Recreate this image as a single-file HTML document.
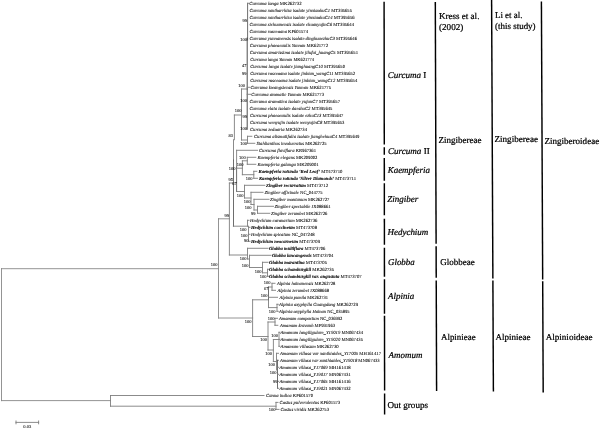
<!DOCTYPE html>
<html lang="en">
<head>
<meta charset="utf-8">
<title>Phylogenetic tree of Zingiberaceae</title>
<style>
html,body{margin:0;padding:0;background:#fff;}
body{width:600px;height:429px;overflow:hidden;}
svg{display:block;}
text{font-family:"Liberation Serif",serif;text-rendering:geometricPrecision;}
.tr line{stroke:#7e7e7e;stroke-width:0.9;stroke-linecap:square;}
.tr line.d{stroke:#5c5c5c;}
.tr line.l{stroke:#888;}
.tr line.k{stroke:#3a3a3a;}
.tip{font-size:4.7px;fill:#000;stroke:#000;stroke-width:0.06px;}
.tip .i{font-style:italic;}
.tip.b .i{font-weight:bold;stroke-width:0.08px;}
.bs{font-size:4.5px;fill:#000;stroke:#000;stroke-width:0.05px;text-anchor:end;}
.bar line{stroke:#000;stroke-width:1.45;}
.lab{font-size:9px;fill:#000;stroke:#000;stroke-width:0.22px;}
.g{font-style:italic;}
</style>
</head>
<body>
<svg width="600" height="429" viewBox="0 0 600 429">
<rect width="600" height="429" fill="#fff"/>
<g class="tr">
<line class="l" x1="1.5" y1="268.7" x2="1.5" y2="400.6"/>
<line class="l" x1="1.5" y1="268.7" x2="218.5" y2="268.7"/>
<line class="l" x1="1.5" y1="400.6" x2="110.5" y2="400.6"/>
<line x1="110.5" y1="395.5" x2="110.5" y2="406.2"/>
<line x1="110.5" y1="395.5" x2="264.0" y2="395.5"/>
<line x1="110.5" y1="406.2" x2="276.0" y2="406.2"/>
<line x1="276.0" y1="402.4" x2="276.0" y2="409.4"/>
<line x1="276.0" y1="402.4" x2="278.0" y2="402.4"/>
<line x1="276.0" y1="409.4" x2="279.0" y2="409.4"/>
<line class="l" x1="218.5" y1="218.8" x2="218.5" y2="318.0"/>
<line class="l" x1="218.5" y1="218.8" x2="229.4" y2="218.8"/>
<line class="l" x1="218.5" y1="318.0" x2="252.6" y2="318.0"/>
<line x1="229.4" y1="183.0" x2="229.4" y2="255.0"/>
<line x1="229.4" y1="183.0" x2="233.4" y2="183.0"/>
<line x1="229.4" y1="255.0" x2="247.5" y2="255.0"/>
<line x1="233.5" y1="139.7" x2="233.5" y2="160.0"/>
<line class="d" x1="233.5" y1="160.0" x2="233.5" y2="226.2"/>
<line x1="233.4" y1="226.2" x2="247.5" y2="226.2"/>
<line x1="234.4" y1="115.0" x2="234.4" y2="139.7"/>
<line x1="234.4" y1="115.0" x2="241.5" y2="115.0"/>
<line x1="241.5" y1="89.0" x2="241.5" y2="140.0"/>
<line x1="241.5" y1="89.0" x2="247.2" y2="89.0"/>
<line x1="241.5" y1="140.0" x2="247.5" y2="140.0"/>
<line class="d" x1="247.6" y1="3.3" x2="247.6" y2="40.0"/>
<line class="k" x1="247.2" y1="38.0" x2="247.2" y2="129.3"/>
<line x1="247.6" y1="3.3" x2="248.6" y2="3.3"/>
<line x1="247.2" y1="87.3" x2="249.8" y2="87.3"/>
<line x1="247.2" y1="94.3" x2="250.5" y2="94.3"/>
<line x1="247.5" y1="136.3" x2="247.5" y2="143.3"/>
<line x1="247.5" y1="136.3" x2="251.8" y2="136.3"/>
<line x1="247.5" y1="143.3" x2="254.8" y2="143.3"/>
<line x1="236.6" y1="150.3" x2="236.6" y2="167.0"/>
<line class="d" x1="236.6" y1="167.0" x2="236.6" y2="191.5"/>
<line x1="236.6" y1="150.3" x2="257.5" y2="150.3"/>
<line x1="236.6" y1="168.2" x2="242.4" y2="168.2"/>
<line x1="242.4" y1="160.8" x2="242.4" y2="174.7"/>
<line x1="242.4" y1="160.8" x2="247.3" y2="160.8"/>
<line x1="247.3" y1="157.3" x2="247.3" y2="164.3"/>
<line x1="247.3" y1="157.3" x2="255.8" y2="157.3"/>
<line x1="247.3" y1="164.3" x2="255.8" y2="164.3"/>
<line x1="242.4" y1="174.7" x2="253.8" y2="174.7"/>
<line x1="253.8" y1="171.3" x2="253.8" y2="178.3"/>
<line x1="253.8" y1="171.3" x2="256.8" y2="171.3"/>
<line x1="253.8" y1="178.3" x2="257.5" y2="178.3"/>
<line x1="236.6" y1="191.5" x2="244.5" y2="191.5"/>
<line x1="244.5" y1="185.3" x2="244.5" y2="198.0"/>
<line x1="244.5" y1="185.3" x2="264.8" y2="185.3"/>
<line x1="244.5" y1="198.0" x2="251.0" y2="198.0"/>
<line x1="251.0" y1="192.3" x2="251.0" y2="204.5"/>
<line x1="251.0" y1="192.3" x2="263.0" y2="192.3"/>
<line x1="251.0" y1="204.5" x2="254.0" y2="204.5"/>
<line x1="254.0" y1="199.3" x2="254.0" y2="210.0"/>
<line x1="254.0" y1="199.3" x2="269.0" y2="199.3"/>
<line x1="254.0" y1="210.0" x2="257.5" y2="210.0"/>
<line x1="257.5" y1="206.3" x2="257.5" y2="213.3"/>
<line x1="257.5" y1="206.3" x2="273.5" y2="206.3"/>
<line x1="257.5" y1="213.3" x2="269.8" y2="213.3"/>
<line x1="247.5" y1="220.3" x2="247.5" y2="226.2"/>
<line x1="247.5" y1="220.3" x2="249.0" y2="220.3"/>
<line x1="248.5" y1="226.2" x2="248.5" y2="241.3"/>
<line x1="248.5" y1="227.3" x2="250.0" y2="227.3"/>
<line x1="248.5" y1="234.3" x2="250.0" y2="234.3"/>
<line x1="248.5" y1="241.3" x2="250.0" y2="241.3"/>
<line x1="247.5" y1="248.3" x2="247.5" y2="259.0"/>
<line x1="247.5" y1="248.3" x2="268.0" y2="248.3"/>
<line x1="249.5" y1="255.3" x2="249.5" y2="267.5"/>
<line x1="247.5" y1="259.0" x2="249.5" y2="259.0"/>
<line x1="249.5" y1="255.3" x2="271.0" y2="255.3"/>
<line x1="249.5" y1="267.5" x2="262.5" y2="267.5"/>
<line x1="262.5" y1="262.3" x2="262.5" y2="272.8"/>
<line x1="262.5" y1="262.3" x2="268.0" y2="262.3"/>
<line x1="262.5" y1="272.8" x2="267.5" y2="272.8"/>
<line x1="267.5" y1="269.3" x2="267.5" y2="276.3"/>
<line x1="267.5" y1="269.3" x2="268.5" y2="269.3"/>
<line x1="267.5" y1="276.3" x2="268.5" y2="276.3"/>
<line x1="252.6" y1="299.8" x2="252.6" y2="336.5"/>
<line x1="252.6" y1="299.8" x2="268.5" y2="299.8"/>
<line x1="252.6" y1="336.5" x2="268.0" y2="336.5"/>
<line class="d" x1="268.5" y1="287.0" x2="268.5" y2="300.0"/>
<line x1="268.5" y1="300.0" x2="268.5" y2="307.6"/>
<line x1="268.5" y1="287.0" x2="272.0" y2="287.0"/>
<line x1="272.0" y1="283.3" x2="272.0" y2="290.3"/>
<line x1="272.0" y1="283.3" x2="275.0" y2="283.3"/>
<line x1="272.0" y1="290.3" x2="275.5" y2="290.3"/>
<line x1="268.5" y1="297.3" x2="277.5" y2="297.3"/>
<line x1="268.5" y1="307.6" x2="277.0" y2="307.6"/>
<line x1="277.0" y1="304.3" x2="277.0" y2="311.3"/>
<line x1="277.0" y1="304.3" x2="278.3" y2="304.3"/>
<line x1="277.0" y1="311.3" x2="278.3" y2="311.3"/>
<line x1="268.0" y1="322.0" x2="268.0" y2="350.0"/>
<line x1="268.0" y1="322.0" x2="275.0" y2="322.0"/>
<line x1="275.0" y1="318.3" x2="275.0" y2="325.3"/>
<line x1="275.0" y1="318.3" x2="277.5" y2="318.3"/>
<line x1="275.0" y1="325.3" x2="277.8" y2="325.3"/>
<line x1="268.0" y1="350.0" x2="273.4" y2="350.0"/>
<line x1="273.4" y1="339.5" x2="273.4" y2="361.5"/>
<line x1="273.4" y1="339.5" x2="279.0" y2="339.5"/>
<line x1="279.0" y1="332.3" x2="279.0" y2="346.3"/>
<line x1="279.0" y1="332.3" x2="280.0" y2="332.3"/>
<line x1="279.0" y1="339.3" x2="280.0" y2="339.3"/>
<line x1="279.0" y1="346.3" x2="280.0" y2="346.3"/>
<line x1="273.4" y1="361.5" x2="276.5" y2="361.5"/>
<line x1="276.5" y1="353.3" x2="276.5" y2="370.0"/>
<line x1="276.5" y1="353.3" x2="278.5" y2="353.3"/>
<line x1="276.5" y1="360.3" x2="278.5" y2="360.3"/>
<line class="d" x1="277.5" y1="360.3" x2="277.5" y2="388.3"/>
<line x1="277.5" y1="367.3" x2="278.8" y2="367.3"/>
<line x1="277.5" y1="374.3" x2="278.8" y2="374.3"/>
<line x1="277.5" y1="381.3" x2="278.8" y2="381.3"/>
<line x1="277.5" y1="388.3" x2="278.8" y2="388.3"/>
<line x1="16" y1="422.4" x2="38.6" y2="422.4"/><line x1="16" y1="421" x2="16" y2="423.8"/><line x1="38.6" y1="421" x2="38.6" y2="423.8"/>
</g>
<text class="bs" style="text-anchor:middle" x="27.3" y="428.3">0.03</text>
<g>
<text class="tip" x="249.3" y="4.75" textLength="52.3" lengthAdjust="spacingAndGlyphs"><tspan class="i">Curcuma longa</tspan> MK262732</text>
<text class="tip" x="249.5" y="11.75" textLength="102.5" lengthAdjust="spacingAndGlyphs"><tspan class="i">Curcuma xanthorrhiza isolate yinxiaohuC1</tspan> MT395655</text>
<text class="tip" x="249.5" y="18.75" textLength="105.1" lengthAdjust="spacingAndGlyphs"><tspan class="i">Curcuma xanthorrhiza isolate yinxiaohuC14</tspan> MT395656</text>
<text class="tip" x="249.5" y="25.75" textLength="104.5" lengthAdjust="spacingAndGlyphs"><tspan class="i">Curcuma sichuanensis isolate chuanyujinC6</tspan> MT395644</text>
<text class="tip" x="249.5" y="32.75" textLength="58.5" lengthAdjust="spacingAndGlyphs"><tspan class="i">Curcuma rosceoana</tspan> KF601574</text>
<text class="tip" x="249.5" y="39.75" textLength="107.5" lengthAdjust="spacingAndGlyphs"><tspan class="i">Curcuma yunnanensis isolate dinghuaezhuC3</tspan> MT395646</text>
<text class="tip" x="249.8" y="46.75" textLength="78.2" lengthAdjust="spacingAndGlyphs"><tspan class="i">Curcuma phaeocaulis Yunnan</tspan> MK621772</text>
<text class="tip" x="249.8" y="53.75" textLength="108.2" lengthAdjust="spacingAndGlyphs"><tspan class="i">Curcuma amarissima isolate jilufui_huangC5</tspan> MT395651</text>
<text class="tip" x="250.2" y="60.75" textLength="63.8" lengthAdjust="spacingAndGlyphs"><tspan class="i">Curcuma longa Yunnan</tspan> MK621774</text>
<text class="tip" x="250.2" y="67.75" textLength="94.8" lengthAdjust="spacingAndGlyphs"><tspan class="i">Curcuma longa isolate jianghuangC10</tspan> MT395650</text>
<text class="tip" x="250.2" y="74.75" textLength="104.8" lengthAdjust="spacingAndGlyphs"><tspan class="i">Curcuma rosceoana isolate jinbian_wangC11</tspan> MT395652</text>
<text class="tip" x="250.2" y="81.75" textLength="107.0" lengthAdjust="spacingAndGlyphs"><tspan class="i">Curcuma rosceoana isolate jinbian_wangC12</tspan> MT395654</text>
<text class="tip" x="250.5" y="88.75" textLength="80.5" lengthAdjust="spacingAndGlyphs"><tspan class="i">Curcuma kwangsiensis Yunnan</tspan> MK621775</text>
<text class="tip" x="251.3" y="95.75" textLength="72.7" lengthAdjust="spacingAndGlyphs"><tspan class="i">Curcuma aromatic Yunnan</tspan> MK621773</text>
<text class="tip" x="249.5" y="102.75" textLength="90.5" lengthAdjust="spacingAndGlyphs"><tspan class="i">Curcuma aromatica isolate yujunC7</tspan> MT395657</text>
<text class="tip" x="249.5" y="109.75" textLength="82.9" lengthAdjust="spacingAndGlyphs"><tspan class="i">Curcuma elata isolate daeshuC2</tspan> MT395645</text>
<text class="tip" x="250.0" y="116.75" textLength="93.4" lengthAdjust="spacingAndGlyphs"><tspan class="i">Curcuma phaeocaulis isolate ezhuC13</tspan> MT395647</text>
<text class="tip" x="250.0" y="123.75" textLength="94.4" lengthAdjust="spacingAndGlyphs"><tspan class="i">Curcuma wenyujin isolate wenyujinC8</tspan> MT395653</text>
<text class="tip" x="250.0" y="130.75" textLength="57.0" lengthAdjust="spacingAndGlyphs"><tspan class="i">Curcuma zedoaria</tspan> MK262734</text>
<text class="tip" x="254.0" y="137.75" textLength="105.4" lengthAdjust="spacingAndGlyphs"><tspan class="i">Curcuma alismatifolia isolate jianghehuaC4</tspan> MT395649</text>
<text class="tip" x="256.5" y="144.75" textLength="70.1" lengthAdjust="spacingAndGlyphs"><tspan class="i">Stahlianthus involucratus</tspan> MK262725</text>
<text class="tip" x="259.0" y="151.75" textLength="57.0" lengthAdjust="spacingAndGlyphs"><tspan class="i">Curcuma flaviflora</tspan> KR967361</text>
<text class="tip" x="257.5" y="158.75" textLength="59.9" lengthAdjust="spacingAndGlyphs"><tspan class="i">Kaempferia elegans</tspan> MK209002</text>
<text class="tip" x="257.5" y="165.75" textLength="61.1" lengthAdjust="spacingAndGlyphs"><tspan class="i">Kaempferia galanga</tspan> MK209001</text>
<text class="tip b" x="258.5" y="172.75" textLength="83.9" lengthAdjust="spacingAndGlyphs"><tspan class="i">Kaempferia rotunda ‘Red Leaf’</tspan> MT473710</text>
<text class="tip b" x="259.0" y="179.75" textLength="97.0" lengthAdjust="spacingAndGlyphs"><tspan class="i">Kaempferia rotunda ‘Silver Diamonds’</tspan> MT473711</text>
<text class="tip b" x="266.0" y="186.75" textLength="62.0" lengthAdjust="spacingAndGlyphs"><tspan class="i">Zingiber recurvatum</tspan> MT473712</text>
<text class="tip" x="264.5" y="193.75" textLength="58.1" lengthAdjust="spacingAndGlyphs"><tspan class="i">Zingiber officinale</tspan> NC_044775</text>
<text class="tip" x="270.0" y="200.75" textLength="59.4" lengthAdjust="spacingAndGlyphs"><tspan class="i">Zingiber montanum</tspan> MK262727</text>
<text class="tip" x="274.5" y="207.75" textLength="56.1" lengthAdjust="spacingAndGlyphs"><tspan class="i">Zingiber spectabile</tspan> JX088661</text>
<text class="tip" x="271.0" y="214.75" textLength="56.4" lengthAdjust="spacingAndGlyphs"><tspan class="i">Zingiber zerumbet</tspan> MK262726</text>
<text class="tip" x="250.0" y="221.75" textLength="67.4" lengthAdjust="spacingAndGlyphs"><tspan class="i">Hedychium coronarium</tspan> MK262736</text>
<text class="tip b" x="251.0" y="228.75" textLength="66.0" lengthAdjust="spacingAndGlyphs"><tspan class="i">Hedychium coccineum</tspan> MT473708</text>
<text class="tip" x="251.0" y="235.75" textLength="63.6" lengthAdjust="spacingAndGlyphs"><tspan class="i">Hedychium spicatum</tspan> NC_047248</text>
<text class="tip b" x="251.0" y="242.75" textLength="69.0" lengthAdjust="spacingAndGlyphs"><tspan class="i">Hedychium neocarneum</tspan> MT473709</text>
<text class="tip b" x="269.0" y="249.75" textLength="56.4" lengthAdjust="spacingAndGlyphs"><tspan class="i">Globba multiflora</tspan> MT473706</text>
<text class="tip b" x="272.0" y="256.75" textLength="61.4" lengthAdjust="spacingAndGlyphs"><tspan class="i">Globba lancangensis</tspan> MT473704</text>
<text class="tip b" x="269.0" y="263.75" textLength="58.0" lengthAdjust="spacingAndGlyphs"><tspan class="i">Globba marantina</tspan> MT473705</text>
<text class="tip b" x="269.0" y="270.75" textLength="65.0" lengthAdjust="spacingAndGlyphs"><tspan class="i">Globba schomburgkii</tspan> MK262735</text>
<text class="tip b" x="269.0" y="277.75" textLength="92.6" lengthAdjust="spacingAndGlyphs"><tspan class="i">Globba schomburgkii var. angustata</tspan> MT473707</text>
<text class="tip" x="277.0" y="284.75" textLength="58.4" lengthAdjust="spacingAndGlyphs"><tspan class="i">Alpinia hainanensis</tspan> MK262728</text>
<text class="tip" x="277.5" y="291.75" textLength="51.5" lengthAdjust="spacingAndGlyphs"><tspan class="i">Alpinia zerumbet</tspan> JX088668</text>
<text class="tip" x="279.5" y="298.75" textLength="48.5" lengthAdjust="spacingAndGlyphs"><tspan class="i">Alpinia pumila</tspan> MK262731</text>
<text class="tip" x="279.0" y="305.75" textLength="79.0" lengthAdjust="spacingAndGlyphs"><tspan class="i">Alpinia oxyphylla Guangdong</tspan> MK262729</text>
<text class="tip" x="279.0" y="312.75" textLength="70.6" lengthAdjust="spacingAndGlyphs"><tspan class="i">Alpinia oxyphylla Hainan</tspan> NC_035895</text>
<text class="tip" x="279.0" y="319.75" textLength="63.4" lengthAdjust="spacingAndGlyphs"><tspan class="i">Amomum compactum</tspan> NC_036992</text>
<text class="tip" x="280.0" y="326.75" textLength="55.0" lengthAdjust="spacingAndGlyphs"><tspan class="i">Amomum kravanh</tspan> MF991963</text>
<text class="tip" x="280.5" y="333.75" textLength="82.5" lengthAdjust="spacingAndGlyphs"><tspan class="i">Amomum longiligulare_Y19019</tspan> MN067434</text>
<text class="tip" x="280.5" y="340.75" textLength="82.5" lengthAdjust="spacingAndGlyphs"><tspan class="i">Amomum longiligulare_Y19020</tspan> MN067435</text>
<text class="tip" x="280.5" y="347.75" textLength="58.2" lengthAdjust="spacingAndGlyphs"><tspan class="i">Amomum villosum</tspan> MK262730</text>
<text class="tip" x="280.0" y="354.75" textLength="101.0" lengthAdjust="spacingAndGlyphs"><tspan class="i">Amomum villosa var xanthioides_Y17005</tspan> MH161417</text>
<text class="tip" x="280.0" y="361.75" textLength="99.7" lengthAdjust="spacingAndGlyphs"><tspan class="i">Amomum villosa var xanthioides_Y19018</tspan> MN067433</text>
<text class="tip" x="279.5" y="368.75" textLength="71.1" lengthAdjust="spacingAndGlyphs"><tspan class="i">Amomum villosa_Y17069</tspan> MH161418</text>
<text class="tip" x="279.5" y="375.75" textLength="71.1" lengthAdjust="spacingAndGlyphs"><tspan class="i">Amomum villosa_Y19017</tspan> MN067431</text>
<text class="tip" x="279.5" y="382.75" textLength="71.1" lengthAdjust="spacingAndGlyphs"><tspan class="i">Amomum villosa_Y17065</tspan> MH161416</text>
<text class="tip" x="279.5" y="389.75" textLength="71.1" lengthAdjust="spacingAndGlyphs"><tspan class="i">Amomum villosa_Y19021</tspan> MN067432</text>
<text class="tip" x="266.0" y="396.75" textLength="47.0" lengthAdjust="spacingAndGlyphs"><tspan class="i">Canna indica</tspan> KF601570</text>
<text class="tip" x="279.5" y="403.75" textLength="60.7" lengthAdjust="spacingAndGlyphs"><tspan class="i">Costus pulverulentus</tspan> KF601573</text>
<text class="tip" x="280.5" y="410.75" textLength="48.5" lengthAdjust="spacingAndGlyphs"><tspan class="i">Costus viridis</tspan> MK262753</text>
</g>
<g>
<text class="bs" x="247.1" y="22.3">99</text>
<text class="bs" x="247.1" y="40.800000000000004">100</text>
<text class="bs" x="246.6" y="67.1">47</text>
<text class="bs" x="246.6" y="74.6">99</text>
<text class="bs" x="245.1" y="86.89999999999999">100</text>
<text class="bs" x="247.1" y="102.1">100</text>
<text class="bs" x="246.9" y="117.6">99</text>
<text class="bs" x="246.9" y="129.6">100</text>
<text class="bs" x="241.6" y="111.6">100</text>
<text class="bs" x="233.1" y="136.6">83</text>
<text class="bs" x="247.1" y="145.1">100</text>
<text class="bs" x="245.79999999999998" y="158.6">100</text>
<text class="bs" x="243.6" y="166.29999999999998">100</text>
<text class="bs" x="235.6" y="169.6">100</text>
<text class="bs" x="252.4" y="180.4">100</text>
<text class="bs" x="232.9" y="180.6">95</text>
<text class="bs" x="236.79999999999998" y="184.7">67</text>
<text class="bs" x="243.6" y="196.6">100</text>
<text class="bs" x="250.6" y="203.1">100</text>
<text class="bs" x="251.6" y="209.1">100</text>
<text class="bs" x="255.6" y="214.6">99</text>
<text class="bs" x="229.1" y="216.6">99</text>
<text class="bs" x="246.6" y="231.1">100</text>
<text class="bs" x="247.6" y="237.1">100</text>
<text class="bs" x="248.6" y="242.1">90</text>
<text class="bs" x="246.6" y="259.6">100</text>
<text class="bs" x="248.6" y="266.6">100</text>
<text class="bs" x="261.6" y="272.6">100</text>
<text class="bs" x="266.6" y="278.1">100</text>
<text class="bs" x="217.6" y="265.6">100</text>
<text class="bs" x="270.6" y="284.1">100</text>
<text class="bs" x="268.6" y="289.6">67</text>
<text class="bs" x="267.6" y="297.1">100</text>
<text class="bs" x="275.6" y="312.6">100</text>
<text class="bs" x="274.6" y="319.6">100</text>
<text class="bs" x="251.6" y="322.6">100</text>
<text class="bs" x="267.1" y="340.6">100</text>
<text class="bs" x="278.1" y="337.1">100</text>
<text class="bs" x="272.1" y="354.6">100</text>
<text class="bs" x="275.1" y="366.1">100</text>
<text class="bs" x="276.6" y="373.6">100</text>
<text class="bs" x="277.6" y="382.6">99</text>
<text class="bs" x="275.6" y="410.6">100</text>
</g>
<g class="bar">
<line x1="384.10" y1="1.7" x2="384.28" y2="144.4"/>
<line x1="384.29" y1="147.3" x2="384.30" y2="154.8"/>
<line x1="384.30" y1="158" x2="384.33" y2="180.7"/>
<line x1="384.33" y1="183.3" x2="384.37" y2="215.3"/>
<line x1="384.38" y1="218.7" x2="384.41" y2="244.7"/>
<line x1="384.42" y1="247.7" x2="384.45" y2="276.8"/>
<line x1="384.46" y1="279.2" x2="384.50" y2="313.7"/>
<line x1="384.50" y1="315.7" x2="384.60" y2="390.6"/>
<line x1="384.60" y1="393.4" x2="384.63" y2="414.6"/>
<line x1="435.31" y1="2" x2="436.11" y2="243.7"/>
<line x1="436.12" y1="246.3" x2="436.22" y2="277.7"/>
<line x1="436.23" y1="280.6" x2="436.60" y2="391"/>
<line x1="491.60" y1="0" x2="492.88" y2="278.6"/>
<line x1="492.89" y1="280.6" x2="493.40" y2="391.4"/>
<line x1="541.41" y1="1.6" x2="542.68" y2="279.6"/>
<line x1="542.69" y1="281.2" x2="543.20" y2="392.5"/>
</g>
<g class="lab">
<text x="387.7" y="77.9" textLength="38.6" lengthAdjust="spacingAndGlyphs"><tspan class="g">Curcuma</tspan> I</text>
<text x="387.9" y="154.3" textLength="41.8" lengthAdjust="spacingAndGlyphs"><tspan class="g">Curcuma</tspan> II</text>
<text x="387.7" y="172.7" textLength="42.3" lengthAdjust="spacingAndGlyphs"><tspan class="g">Kaempferia</tspan></text>
<text x="387.3" y="201.6" textLength="31" lengthAdjust="spacingAndGlyphs"><tspan class="g">Zingiber</tspan></text>
<text x="387.5" y="234.8" textLength="40.8" lengthAdjust="spacingAndGlyphs"><tspan class="g">Hedychium</tspan></text>
<text x="388" y="264.6" textLength="26.7" lengthAdjust="spacingAndGlyphs"><tspan class="g">Globba</tspan></text>
<text x="388" y="299.4" textLength="26.3" lengthAdjust="spacingAndGlyphs"><tspan class="g">Alpinia</tspan></text>
<text x="388.6" y="358" textLength="33.8" lengthAdjust="spacingAndGlyphs"><tspan class="g">Amomum</tspan></text>
<text x="387.4" y="408" textLength="40.6" lengthAdjust="spacingAndGlyphs">Out groups</text>
<text x="439" y="18.7" textLength="40.4" lengthAdjust="spacingAndGlyphs">Kress et al.</text>
<text x="439" y="29.6" textLength="24.3" lengthAdjust="spacingAndGlyphs">(2002)</text>
<text x="495" y="18" textLength="27.4" lengthAdjust="spacingAndGlyphs">Li et al.</text>
<text x="495" y="28.6" textLength="40.6" lengthAdjust="spacingAndGlyphs">(this study)</text>
<text x="438.4" y="142.6" textLength="43" lengthAdjust="spacingAndGlyphs">Zingibereae</text>
<text x="494.4" y="142.4" textLength="43.6" lengthAdjust="spacingAndGlyphs">Zingibereae</text>
<text x="544.4" y="143.6" textLength="54.8" lengthAdjust="spacingAndGlyphs">Zingiberoideae</text>
<text x="440.3" y="265.3" textLength="34.5" lengthAdjust="spacingAndGlyphs">Globbeae</text>
<text x="441" y="340.4" textLength="34.6" lengthAdjust="spacingAndGlyphs">Alpinieae</text>
<text x="495.6" y="340" textLength="35" lengthAdjust="spacingAndGlyphs">Alpinieae</text>
<text x="545.7" y="340" textLength="46.9" lengthAdjust="spacingAndGlyphs">Alpinioideae</text>
</g>
</svg>
</body>
</html>
